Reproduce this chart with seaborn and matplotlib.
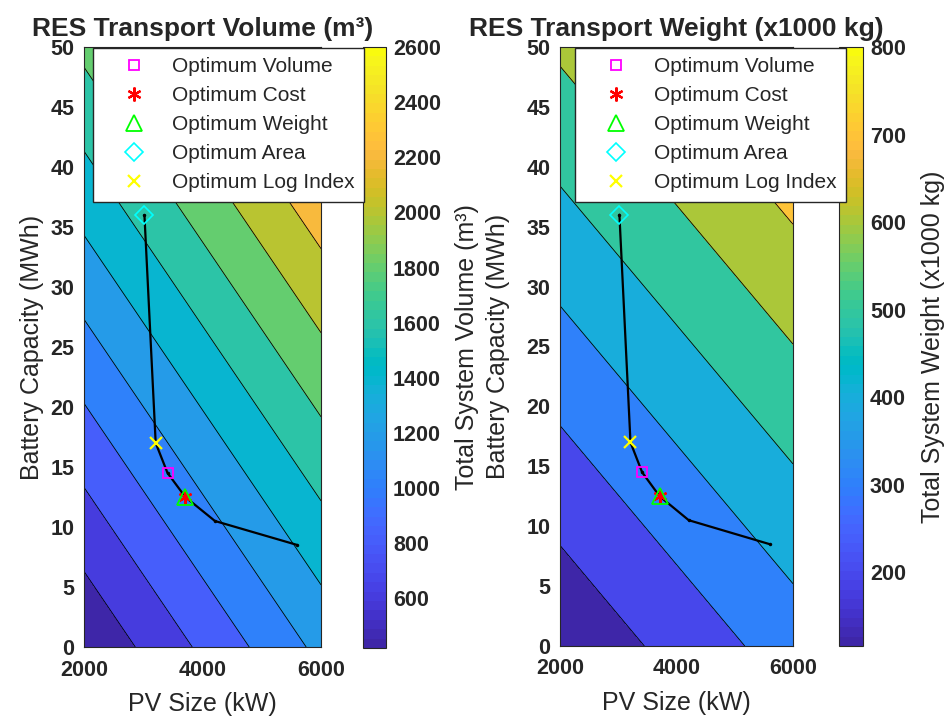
import numpy as np
import pandas as pd
import matplotlib
matplotlib.use("Agg")
import matplotlib.pyplot as plt
import seaborn as sns
from matplotlib.colors import ListedColormap, Normalize
from matplotlib.cm import ScalarMappable
from matplotlib.lines import Line2D

# ---------------- data ----------------
pv_grid = [2000, 4000, 6000]            # kW
batt_grid = [0, 25, 50]                 # MWh
# rows = battery capacity, columns = PV size
volume_grid = [[420, 836, 1252],
               [1134, 1550, 1966],
               [1848, 2264, 2680]]      # m^3
weight_grid = [[116, 232, 348],
               [366, 482, 598],
               [616, 732, 848]]         # x1000 kg
volume_levels = [600, 800, 1000, 1200, 1400, 1600, 1800, 2000, 2200, 2400, 2600]
weight_levels = [200, 300, 400, 500, 600, 700, 800]
volume_clim = [420, 2600]
weight_clim = [116, 800]

path_pv = [3020, 3210, 3410, 3710, 4210, 5600]
path_batt = [36, 17, 14.5, 12.5, 10.5, 8.5]

opt_names = ["Optimum Volume", "Optimum Cost", "Optimum Weight",
             "Optimum Area", "Optimum Log Index"]
opt_pv = [3410, 3710, 3710, 3020, 3210]
opt_batt = [14.5, 12.5, 12.5, 36, 17]

x_ticks = [2000, 4000, 6000]
y_ticks = [0, 5, 10, 15, 20, 25, 30, 35, 40, 45, 50]
volume_ticks = [600, 800, 1000, 1200, 1400, 1600, 1800, 2000, 2200, 2400, 2600]
weight_ticks = [200, 300, 400, 500, 600, 700, 800]

# ---------------- style ----------------
sns.set_style("white")
plt.rcParams['font.family'] = ['Liberation Sans', 'DejaVu Sans']
plt.rcParams['axes.edgecolor'] = (0.15, 0.15, 0.15)
plt.rcParams['axes.linewidth'] = 0.8

parula_rows = [
    (0.2422, 0.1504, 0.6603), (0.2504, 0.1650, 0.7076), (0.2578, 0.1818, 0.7511), (0.2647, 0.1978, 0.7952),
    (0.2706, 0.2147, 0.8364), (0.2751, 0.2342, 0.8710), (0.2783, 0.2559, 0.8991), (0.2803, 0.2782, 0.9221),
    (0.2813, 0.3006, 0.9414), (0.2810, 0.3228, 0.9579), (0.2795, 0.3447, 0.9717), (0.2760, 0.3667, 0.9829),
    (0.2699, 0.3892, 0.9906), (0.2602, 0.4123, 0.9952), (0.2440, 0.4358, 0.9988), (0.2206, 0.4603, 0.9973),
    (0.1963, 0.4847, 0.9892), (0.1834, 0.5074, 0.9798), (0.1786, 0.5289, 0.9682), (0.1764, 0.5499, 0.9520),
    (0.1687, 0.5703, 0.9359), (0.1540, 0.5902, 0.9218), (0.1460, 0.6091, 0.9079), (0.1380, 0.6276, 0.8973),
    (0.1248, 0.6459, 0.8883), (0.1113, 0.6635, 0.8763), (0.0952, 0.6798, 0.8598), (0.0689, 0.6948, 0.8394),
    (0.0297, 0.7082, 0.8163), (0.0036, 0.7203, 0.7917), (0.0067, 0.7312, 0.7660), (0.0433, 0.7411, 0.7394),
    (0.0964, 0.7500, 0.7120), (0.1408, 0.7584, 0.6842), (0.1717, 0.7670, 0.6554), (0.1938, 0.7758, 0.6251),
    (0.2161, 0.7843, 0.5923), (0.2470, 0.7918, 0.5567), (0.2906, 0.7973, 0.5188), (0.3406, 0.8008, 0.4789),
    (0.3909, 0.8029, 0.4354), (0.4456, 0.8024, 0.3909), (0.5044, 0.7993, 0.3480), (0.5616, 0.7942, 0.3045),
    (0.6174, 0.7876, 0.2612), (0.6720, 0.7793, 0.2227), (0.7242, 0.7698, 0.1910), (0.7738, 0.7598, 0.1646),
    (0.8203, 0.7498, 0.1535), (0.8634, 0.7406, 0.1596), (0.9035, 0.7330, 0.1774), (0.9393, 0.7288, 0.2100),
    (0.9728, 0.7298, 0.2394), (0.9956, 0.7434, 0.2371), (0.9970, 0.7659, 0.2199), (0.9952, 0.7893, 0.2028),
    (0.9892, 0.8136, 0.1885), (0.9786, 0.8386, 0.1766), (0.9676, 0.8639, 0.1643), (0.9610, 0.8890, 0.1537),
    (0.9597, 0.9135, 0.1423), (0.9628, 0.9373, 0.1265), (0.9691, 0.9606, 0.1064), (0.9763, 0.9831, 0.0538)]
parula = ListedColormap(parula_rows, name="parula")

W, H = 947, 718
fig = plt.figure(figsize=(W / 100, H / 100), dpi=100)


def fx(px):
    return px / W


def fy(py):
    return 1 - py / H


TICK_FS = 15.5
LABEL_FS = 18
TITLE_FS = 19
LEG_FS = 15

marker_styles = [
    dict(marker='s', color='#ff00ff', size=7.5, mew=1.3),
    dict(marker=(6, 2, 0), color='#ff0000', size=10, mew=1.6),
    dict(marker='^', color='#00ff00', size=11, mew=1.3),
    dict(marker='D', color='#00ffff', size=9, mew=1.2),
    dict(marker='x', color='#ffff00', size=8, mew=1.6),
]


def panel(ax_box, cb_box, grid, levels, clim, cticks, title, clabel, clabel_x, ylabel_x):
    ax = fig.add_axes([fx(ax_box[0]), fy(ax_box[3]), fx(ax_box[2] - ax_box[0]),
                       (ax_box[3] - ax_box[1]) / H])
    X, Y = np.meshgrid(pv_grid, batt_grid)
    Z = np.array(grid, dtype=float)
    vmin, vmax = clim
    norm = Normalize(vmin=vmin, vmax=vmax)
    # MATLAB style: each band takes the colour of its lower bound
    full_levels = [Z.min() - 1] + list(levels) + [Z.max() + 1]
    band_lows = [vmin] + list(levels)
    colors = [parula(min(1.0, norm(v))) for v in band_lows]
    ax.contourf(X, Y, Z, levels=full_levels, colors=colors)
    ax.contour(X, Y, Z, levels=levels, colors='k', linewidths=0.6)

    path_df = pd.DataFrame({"pv": path_pv, "batt": path_batt})
    sns.lineplot(data=path_df, x="pv", y="batt", sort=False, color='k', lw=1.6,
                 marker='o', markersize=2.5, markeredgewidth=0, ax=ax, estimator=None)
    for i, st in enumerate(marker_styles):
        ax.plot([opt_pv[i]], [opt_batt[i]], linestyle='none', marker=st['marker'],
                markersize=st['size'], markerfacecolor='none', markeredgecolor=st['color'],
                markeredgewidth=st['mew'], zorder=5)

    ax.set_xlim(2000, 6000)
    ax.set_ylim(0, 50)
    ax.set_xticks(x_ticks)
    ax.set_xticklabels([str(t) for t in x_ticks], fontsize=TICK_FS, fontweight='bold')
    ax.set_yticks(y_ticks)
    ax.set_yticklabels([str(t) for t in y_ticks], fontsize=TICK_FS, fontweight='bold')
    ax.tick_params(direction='in', length=4, width=0.7, top=True, right=True,
                   color=(0.15, 0.15, 0.15))
    ax.tick_params(axis='x', pad=9)
    ax.tick_params(axis='y', pad=7)
    ax.set_xlabel("PV Size (kW)", fontsize=LABEL_FS, labelpad=8)
    ax.set_ylabel("Battery Capacity (MWh)", fontsize=LABEL_FS)
    ax.yaxis.set_label_coords(ylabel_x, 0.5)
    ax.set_title(title, fontsize=TITLE_FS, fontweight='bold', pad=8)

    cax = fig.add_axes([fx(cb_box[0]), fy(cb_box[3]), fx(cb_box[2] - cb_box[0]),
                        (cb_box[3] - cb_box[1]) / H])
    sm = ScalarMappable(norm=norm, cmap=parula)
    cb = fig.colorbar(sm, cax=cax, ticks=cticks)
    cb.outline.set_edgecolor((0.15, 0.15, 0.15))
    cb.outline.set_linewidth(0.8)
    cax.set_yticklabels([str(t) for t in cticks], fontsize=TICK_FS, fontweight='bold')
    cax.tick_params(direction='in', length=5, width=0.7, pad=5, color=(0.15, 0.15, 0.15))
    cax.set_ylabel(clabel, fontsize=LABEL_FS)
    cax.yaxis.set_label_coords(clabel_x, 0.5)
    return ax


# label coordinates: ylabel anchor = right edge of text, colorbar label anchor = left edge
ax1 = panel((84, 47, 321, 647), (363, 47, 386, 648), volume_grid, volume_levels, volume_clim,
            volume_ticks, "RES Transport Volume (m³)", "Total System Volume (m³)",
            (455 - 363) / 23, (44 - 84) / 237)
ax2 = panel((560, 47, 793, 646), (839, 47, 863, 646), weight_grid, weight_levels, weight_clim,
            weight_ticks, "RES Transport Weight (x1000 kg)", "Total System Weight (x1000 kg)",
            (921 - 839) / 24, (510 - 560) / 233)

handles = [Line2D([], [], linestyle='none', marker=st['marker'], markersize=st['size'],
                  markerfacecolor='none', markeredgecolor=st['color'],
                  markeredgewidth=st['mew']) for st in marker_styles]

for left in (93, 575):
    fig.legend(handles, opt_names, loc='upper left', bbox_to_anchor=(fx(left), fy(48)),
               bbox_transform=fig.transFigure, borderaxespad=0, frameon=True, fancybox=False,
               edgecolor=(0.15, 0.15, 0.15), framealpha=1, fontsize=LEG_FS,
               handlelength=3.0, handletextpad=0.36, labelspacing=0.48, borderpad=0.45)

fig.savefig("out.png", dpi=100)
